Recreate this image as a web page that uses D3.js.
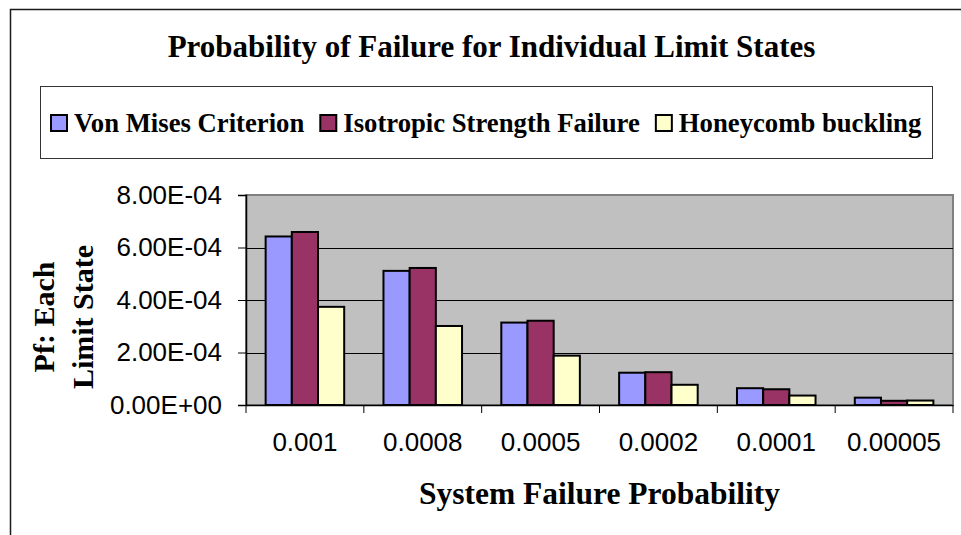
<!DOCTYPE html>
<html>
<head>
<meta charset="utf-8">
<script src="https://cdn.jsdelivr.net/npm/d3@7"></script>
<style>
  html, body { margin: 0; padding: 0; background: #fff; }
  svg { display: block; }
</style>
</head>
<body>
<svg id="chart" width="961" height="535"></svg>
<script>
// ---- data ----
const categories = ["0.001", "0.0008", "0.0005", "0.0002", "0.0001", "0.00005"];
const seriesNames = ["Von Mises Criterion", "Isotropic Strength Failure", "Honeycomb buckling"];
const vonMises   = [6.42e-4, 5.11e-4, 3.14e-4, 1.23e-4, 6.4e-5, 2.8e-5];
const isotropic  = [6.59e-4, 5.22e-4, 3.21e-4, 1.25e-4, 6.0e-5, 1.6e-5];
const honeycomb  = [3.74e-4, 3.01e-4, 1.88e-4, 7.7e-5, 3.6e-5, 1.7e-5];
const yTicks = [0, 2e-4, 4e-4, 6e-4, 8e-4];
const colors = ["#9999FF", "#993366", "#FFFFCC"];
const chartTitle = "Probability of Failure for Individual Limit States";
const xTitle = "System Failure Probability";
const yTitleLines = ["Pf: Each", "Limit State"];

const seriesValues = [vonMises, isotropic, honeycomb];

const svg = d3.select("#chart");
const serif = "'Liberation Serif', 'Times New Roman', serif";
const sans = "'Liberation Sans', Arial, sans-serif";

// outer chart border
svg.append("rect")
  .attr("x", 10.5).attr("y", 9.5).attr("width", 1000).attr("height", 600)
  .attr("fill", "#fff").attr("stroke", "#1a1a1a").attr("stroke-width", 1.5);

// title
svg.append("text")
  .attr("x", 491.5).attr("y", 57)
  .attr("text-anchor", "middle")
  .attr("font-family", serif).attr("font-weight", "bold").attr("font-size", 31)
  .text(chartTitle);

// legend
const legend = svg.append("g");
legend.append("rect")
  .attr("x", 40.5).attr("y", 86.5).attr("width", 892).attr("height", 72)
  .attr("fill", "#fff").attr("stroke", "#333").attr("stroke-width", 1);
let lx = 50;
seriesNames.forEach((name, i) => {
  legend.append("rect")
    .attr("x", lx + 1).attr("y", 115).attr("width", 16).attr("height", 16)
    .attr("fill", colors[i]).attr("stroke", "#000").attr("stroke-width", 2);
  const t = legend.append("text")
    .attr("x", lx + 24).attr("y", 132)
    .attr("font-family", serif).attr("font-weight", "bold").attr("font-size", 26.7)
    .text(name);
  lx = lx + 24 + t.node().getComputedTextLength() + 15;
});

// plot area
const plot = { left: 246, right: 953, top: 195, bottom: 405 };
const x = d3.scaleBand().domain(categories).range([plot.left, plot.right]).padding(0);
const bw = x.bandwidth();
const x1 = d3.scaleBand().domain(d3.range(seriesNames.length))
  .range([bw * 0.75 / 4.5, bw * 0.75 / 4.5 + bw * 3 / 4.5]).padding(0);
const y = d3.scaleLinear().domain([0, 8e-4]).range([plot.bottom, plot.top]);

svg.append("rect")
  .attr("x", plot.left).attr("y", plot.top)
  .attr("width", plot.right - plot.left).attr("height", plot.bottom - plot.top)
  .attr("fill", "#C0C0C0").attr("stroke", "#808080").attr("stroke-width", 2);

// gridlines
svg.append("g").selectAll("line")
  .data(yTicks.filter(d => d > 0 && d < 8e-4))
  .join("line")
  .attr("x1", plot.left).attr("x2", plot.right)
  .attr("y1", d => Math.round(y(d)) + 0.5).attr("y2", d => Math.round(y(d)) + 0.5)
  .attr("stroke", "#000").attr("stroke-width", 1);

// bars
const groups = svg.append("g").selectAll("g")
  .data(categories)
  .join("g")
  .attr("transform", d => `translate(${x(d)},0)`);
groups.selectAll("rect")
  .data((d, ci) => seriesValues.map((vals, si) => ({ si, v: vals[ci] })))
  .join("rect")
  .attr("x", d => x1(d.si))
  .attr("width", x1.bandwidth())
  .attr("y", d => y(d.v))
  .attr("height", d => y(0) - y(d.v))
  .attr("fill", d => colors[d.si])
  .attr("stroke", "#000").attr("stroke-width", 2);

// y axis
function fmtE(v) {
  if (v === 0) return "0.00E+00";
  const e = Math.floor(Math.log10(Math.abs(v)) + 1e-9);
  const m = v / Math.pow(10, e);
  const sign = e < 0 ? "-" : "+";
  return m.toFixed(2) + "E" + sign + String(Math.abs(e)).padStart(2, "0");
}
const yAxis = svg.append("g")
  .attr("transform", `translate(${plot.left},0)`)
  .call(d3.axisLeft(y).tickValues(yTicks).tickSize(8).tickPadding(16).tickFormat(fmtE));
yAxis.select(".domain").attr("stroke", "#000").attr("stroke-width", 1.5);
yAxis.selectAll(".tick line").attr("stroke", "#000");
yAxis.selectAll(".tick text")
  .attr("font-family", sans).attr("font-size", 26).attr("fill", "#000");

// x axis
const xAxis = svg.append("g")
  .attr("transform", `translate(0,${plot.bottom})`)
  .call(d3.axisBottom(x).tickSize(0).tickPadding(28));
xAxis.select(".domain").attr("stroke", "#000").attr("stroke-width", 1.5);
xAxis.selectAll(".tick text")
  .attr("font-family", sans).attr("font-size", 26).attr("fill", "#000");
// category boundary ticks
const bounds = categories.map(c => x(c)).concat([plot.right]);
xAxis.append("g").selectAll("line")
  .data(bounds)
  .join("line")
  .attr("x1", d => d).attr("x2", d => d)
  .attr("y1", 0).attr("y2", 8)
  .attr("stroke", "#000").attr("stroke-width", 1);

// axis titles
svg.append("text")
  .attr("x", (plot.left + plot.right) / 2).attr("y", 504)
  .attr("text-anchor", "middle")
  .attr("font-family", serif).attr("font-weight", "bold").attr("font-size", 31.5)
  .text(xTitle);

const yt = svg.append("g").attr("transform", "translate(0,317)");
yTitleLines.forEach((line, i) => {
  yt.append("text")
    .attr("transform", `translate(${54 + i * 39},0) rotate(-90)`)
    .attr("text-anchor", "middle")
    .attr("font-family", serif).attr("font-weight", "bold").attr("font-size", 30)
    .text(line);
});
</script>
</body>
</html>
